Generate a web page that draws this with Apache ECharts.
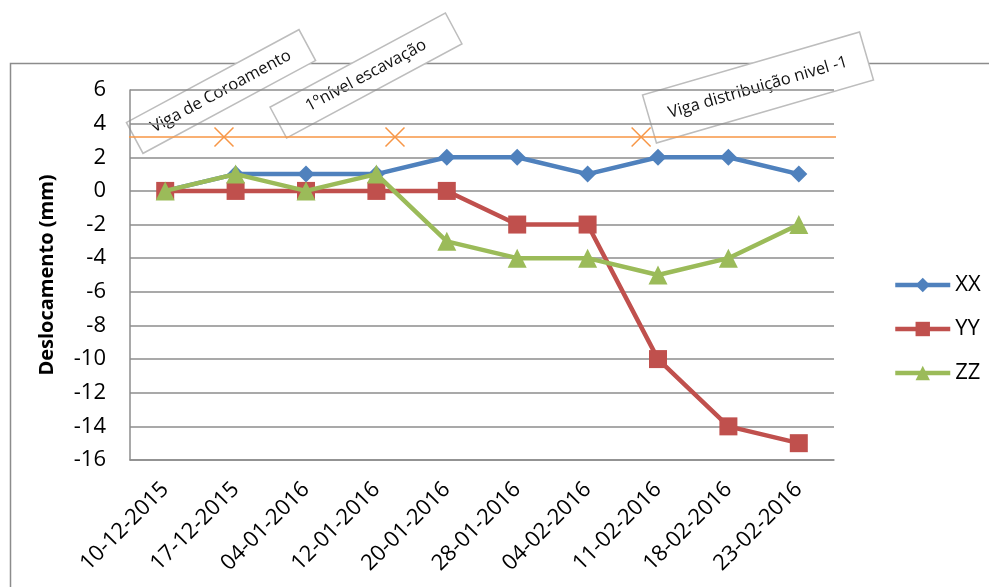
<!DOCTYPE html>
<html>
<head>
<meta charset="utf-8">
<script src="https://cdn.jsdelivr.net/npm/echarts@6/dist/echarts.min.js"></script>
<style>
  html, body { margin: 0; padding: 0; background: #fff; }
  #chart { width: 989px; height: 587px; }
</style>
</head>
<body>
<div id="chart"></div>
<script>
// Survey dates and measured displacements (mm)
const dates = ['10-12-2015', '17-12-2015', '04-01-2016', '12-01-2016', '20-01-2016',
               '28-01-2016', '04-02-2016', '11-02-2016', '18-02-2016', '23-02-2016'];
const xx = [0, 1, 1, 1, 2, 2, 1, 2, 2, 1];
const yy = [0, 0, 0, 0, 0, -2, -2, -10, -14, -15];
const zz = [0, 1, 0, 1, -3, -4, -4, -5, -4, -2];

// Construction stages, placed along the date axis (fractional category index)
const stageLine = 3.2;
const stagePos = [0.835, 3.264, 6.76];
const stageLineSpan = [-0.571, 9.585];
const stageNames = ['Viga de Coroamento', '1ºnível escavação', 'Viga distribuição nivel -1'];

const FONT = '"Open Sans", "Noto Sans", sans-serif';

const stageData = [[stageLineSpan[0], stageLine, 'none']]
  .concat(stagePos.map(p => [p, stageLine, 'x']))
  .concat([[stageLineSpan[1], stageLine, 'none']])
  .map(d => ({ value: [d[0], d[1]], symbol: d[2] === 'none' ? 'none' : 'path://M0,0L10,10M10,0L0,10' }));

function stageBox(cx, cy, w, h, angleDeg, text, fontSize) {
  return {
    type: 'group', x: cx, y: cy, rotation: angleDeg * Math.PI / 180, z: 100,
    children: [
      { type: 'rect', shape: { x: -w / 2, y: -h / 2, width: w, height: h },
        style: { fill: '#ffffff', stroke: '#bdbdbd', lineWidth: 1.5 } },
      { type: 'text', x: 0, y: 0,
        style: { text: text, fill: '#111', font: fontSize + 'px ' + FONT,
                 align: 'center', verticalAlign: 'middle' } }
    ]
  };
}

const chart = echarts.init(document.getElementById('chart'));
chart.setOption({
  animation: false,
  backgroundColor: '#ffffff',
  grid: { left: 130, top: 90, right: 155, bottom: 127, containLabel: false },
  legend: {
    data: ['XX', 'YY', 'ZZ'],
    orient: 'vertical',
    left: 888, top: 269,
    itemWidth: 55, itemHeight: 18, itemGap: 22,
    lineStyle: { width: 4.5 },
    textStyle: { fontFamily: FONT, fontSize: 22, color: '#000', lineHeight: 22 }
  },
  xAxis: [{
    type: 'category',
    data: dates,
    boundaryGap: true,
    axisLine: { onZero: false, lineStyle: { color: '#8c8c8c', width: 1.5 } },
    axisTick: { inside: true, length: 7, lineStyle: { color: '#8c8c8c', width: 1.5 } },
    axisLabel: { rotate: 45, margin: 26, fontFamily: FONT, fontSize: 22, color: '#000', interval: 0 },
    splitLine: { show: false }
  }, {
    type: 'value', min: -0.5, max: 9.5, show: false
  }],
  yAxis: {
    type: 'value',
    min: -16, max: 6, interval: 2,
    name: 'Deslocamento (mm)',
    nameLocation: 'middle', nameGap: 73,
    nameTextStyle: { fontFamily: FONT, fontSize: 20, fontWeight: 'bold', color: '#000' },
    axisLine: { show: true, onZero: false, lineStyle: { color: '#8c8c8c', width: 1.5 } },
    axisTick: { show: false },
    axisLabel: { margin: 24, fontFamily: FONT, fontSize: 22, color: '#000' },
    splitLine: { lineStyle: { color: '#8c8c8c', width: 1.5 } }
  },
  series: [
    {
      name: 'stages', type: 'line', xAxisIndex: 1, data: stageData,
      clip: false, symbolSize: 19, z: 1,
      lineStyle: { color: '#F79646', width: 1.5 },
      itemStyle: { color: '#F79646', borderColor: '#F79646', borderWidth: 1.5 },
      silent: true
    },
    {
      name: 'XX', type: 'line', data: xx, symbol: 'diamond', symbolSize: 17,
      lineStyle: { color: '#4F81BD', width: 4.5 }, itemStyle: { color: '#4F81BD' }, z: 2
    },
    {
      name: 'YY', type: 'line', data: yy, symbol: 'rect', symbolSize: 18,
      lineStyle: { color: '#C0504D', width: 4.5 }, itemStyle: { color: '#C0504D' }, z: 3
    },
    {
      name: 'ZZ', type: 'line', data: zz, symbol: 'triangle', symbolSize: 19,
      lineStyle: { color: '#9BBB59', width: 4.5 }, itemStyle: { color: '#9BBB59' }, z: 4
    }
  ],
  graphic: [
    { type: 'rect', z: -10, silent: true,
      shape: { x: 10.5, y: 63.5, width: 1000, height: 600 },
      style: { fill: 'none', stroke: '#8c8c8c', lineWidth: 1.5 } },
    stageBox(221, 91.5, 196, 35, 28.3, stageNames[0], 16.5),
    stageBox(366, 75.5, 199, 35, 28.2, stageNames[1], 16.5),
    stageBox(758, 87.5, 226, 50, 16.2, stageNames[2], 16.5)
  ]
});
</script>
</body>
</html>
